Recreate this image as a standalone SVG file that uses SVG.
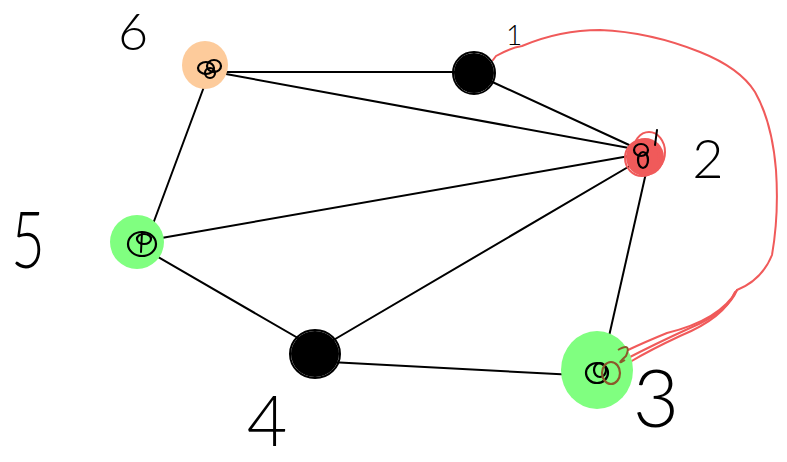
<svg xmlns="http://www.w3.org/2000/svg" width="787" height="462" viewBox="0 0 787 462">
  <style>
    .edge { stroke: #000; stroke-width: 2; fill: none; stroke-linecap: round; }
    .scribble { stroke: #000; stroke-width: 2.2; fill: none; }
    .red-ink { stroke: #F05A5A; stroke-width: 2; fill: none; stroke-linecap: round; stroke-linejoin: round; }
    .label { font-family: "Lato", "Open Sans", "DejaVu Sans", sans-serif; font-weight: 300; fill: #000; text-anchor: middle; }
  </style>
  <rect width="787" height="462" fill="#fff"/>

  <!-- connectors -->
  <g id="edges">
    <line class="edge" x1="212" y1="72" x2="475" y2="72"/>
    <line class="edge" x1="215" y1="72" x2="640" y2="150"/>
    <line class="edge" x1="208" y1="76" x2="150" y2="232"/>
    <line class="edge" x1="488" y1="80" x2="640" y2="150"/>
    <line class="edge" x1="150" y1="240" x2="635" y2="155"/>
    <line class="edge" x1="146" y1="250" x2="310" y2="345"/>
    <line class="edge" x1="325" y1="345" x2="640" y2="160"/>
    <line class="edge" x1="330" y1="362" x2="595" y2="376"/>
    <line class="edge" x1="648" y1="164" x2="600" y2="376"/>
    <!-- hand-drawn arc from node 1 around to node 3 -->
    <path class="red-ink" d="M493 60 L496 56 Q510 48 522 46 Q560 30 600 30 Q650 32 700 52 Q740 68 755 92 Q772 122 776 170 Q779 215 772 255 Q762 280 737 290 Q720 320 667 333 Q645 342 628 350"/>
    <path class="red-ink" d="M737 290 Q728 312 690 328 Q655 344 628 358"/>
    <path class="red-ink" d="M735 292 Q724 318 680 336 Q650 350 630 362"/>
  </g>

  <!-- node 6 -->
  <g id="node-6">
    <ellipse cx="205" cy="65" rx="23" ry="24" fill="#FDCB9B"/>
    <ellipse class="scribble" cx="206" cy="68" rx="8" ry="6"/>
    <ellipse class="scribble" cx="214" cy="66" rx="7" ry="6"/>
    <ellipse class="scribble" cx="210" cy="73" rx="5" ry="5"/>
    <text class="label" x="133" y="50" font-size="52">6</text>
  </g>

  <!-- node 1 -->
  <g id="node-1">
    <ellipse cx="474" cy="73" rx="20" ry="20" fill="#000"/>
    <ellipse cx="474" cy="73" rx="21" ry="21" fill="none" stroke="#000" stroke-width="2"/>
    <text class="label" x="514" y="45" font-size="28">1</text>
  </g>

  <!-- node 2 -->
  <g id="node-2">
    <ellipse cx="645" cy="157" rx="19" ry="19" fill="#F05A5A"/>
    <ellipse class="red-ink" cx="649" cy="152" rx="16" ry="20"/>
    <ellipse class="red-ink" cx="642" cy="158" rx="17" ry="18"/>
    <ellipse class="scribble" cx="643" cy="160" rx="5" ry="8" stroke-width="1.5"/>
    <ellipse class="scribble" cx="641" cy="150" rx="7" ry="6" stroke-width="1.2"/>
    <line class="edge" x1="657" y1="130" x2="655" y2="145" stroke-width="1.5"/>
    <text class="label" x="708" y="178" font-size="54">2</text>
  </g>

  <!-- node 5 -->
  <g id="node-5">
    <ellipse cx="137" cy="242" rx="27" ry="27" fill="#80FF80"/>
    <ellipse class="scribble" cx="142" cy="244" rx="14" ry="12"/>
    <ellipse class="scribble" cx="144" cy="239" rx="7" ry="5"/>
    <line class="edge" x1="142" y1="232" x2="141" y2="252"/>
    <text class="label" x="28" y="268" font-size="78" transform="translate(28 0) scale(0.75 1) translate(-28 0)">5</text>
  </g>

  <!-- node 4 -->
  <g id="node-4">
    <ellipse cx="315" cy="354" rx="24" ry="23" fill="#000"/>
    <ellipse cx="315" cy="354" rx="25" ry="24" fill="none" stroke="#000" stroke-width="2"/>
    <text class="label" x="267" y="446" font-size="70">4</text>
  </g>

  <!-- node 3 -->
  <g id="node-3">
    <ellipse cx="597" cy="370" rx="36" ry="39" fill="#80FF80"/>
    <ellipse class="scribble" cx="597" cy="373" rx="11" ry="10"/>
    <ellipse class="scribble" cx="600" cy="370" rx="6" ry="7"/>
    <ellipse cx="611" cy="373" rx="9" ry="11" fill="none" stroke="#8B5A2B" stroke-width="2.2"/>
    <path d="M618 350 Q632 342 626 356 Q615 366 625 360" fill="none" stroke="#8B5A2B" stroke-width="2"/>
    <text class="label" x="656" y="427" font-size="80">3</text>
  </g>
</svg>
